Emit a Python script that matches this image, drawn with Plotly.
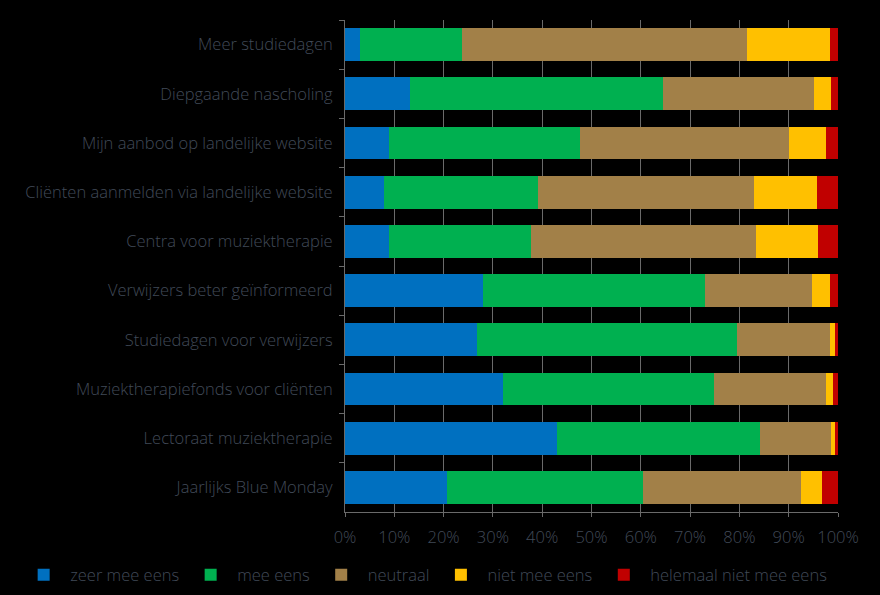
import plotly.graph_objects as go

categories = ['Meer studiedagen',
              'Diepgaande nascholing',
              'Mijn aanbod op landelijke website',
              'Cliënten aanmelden via landelijke website',
              'Centra voor muziektherapie',
              'Verwijzers beter geïnformeerd',
              'Studiedagen voor verwijzers',
              'Muziektherapiefonds voor cliënten',
              'Lectoraat muziektherapie',
              'Jaarlijks Blue Monday']

zeer_mee_eens = [3.0, 13.1, 8.9, 7.9, 8.9, 28.0, 26.7, 32.0, 43.0, 20.7]
mee_eens = [20.7, 51.4, 38.7, 31.2, 28.9, 45.0, 52.8, 42.9, 41.1, 39.8]
neutraal = [57.8, 30.6, 42.4, 43.8, 45.6, 21.7, 18.8, 22.7, 14.5, 31.9]
niet_mee_eens = [16.8, 3.4, 7.6, 12.8, 12.6, 3.6, 1.0, 1.4, 0.7, 4.3]
helemaal_niet = [1.7, 1.5, 2.4, 4.3, 4.0, 1.7, 0.7, 1.0, 0.7, 3.3]

series = [('zeer mee eens', zeer_mee_eens, '#0070C0'),
          ('mee eens', mee_eens, '#00B050'),
          ('neutraal', neutraal, '#A28048'),
          ('niet mee eens', niet_mee_eens, '#FFC000'),
          ('helemaal niet mee eens', helemaal_niet, '#C00000')]

text_color = '#404a58'
grid_color = '#6a6a6a'

fig = go.Figure()
for name, vals, color in series:
    fig.add_trace(go.Bar(y=categories, x=[v / 100 for v in vals], name=name,
                         orientation='h', marker=dict(color=color, line=dict(width=0))))

fig.update_layout(
    barmode='stack', bargap=0.33,
    width=880, height=595,
    paper_bgcolor='black', plot_bgcolor='black',
    font=dict(family='Open Sans', size=16.5, color=text_color, weight=300),
    margin=dict(l=345, r=42, t=20, b=83, autoexpand=False),
    legend=dict(orientation='h', x=-0.665, xanchor='left', y=-0.128, yanchor='middle',
                font=dict(size=16.5, color=text_color), traceorder='normal',
                itemwidth=43, itemclick=False),
    showlegend=True,
)

fig.update_xaxes(range=[0, 1], tickformat='.0%', dtick=0.1,
                 showgrid=True, gridcolor=grid_color, gridwidth=1,
                 showline=True, linecolor=grid_color, linewidth=1,
                 ticks='outside', ticklen=4, tickcolor=grid_color,
                 ticklabelstandoff=6, zeroline=False, fixedrange=True)
fig.update_yaxes(autorange='reversed', showgrid=False,
                 showline=True, linecolor=grid_color, linewidth=1,
                 ticks='outside', ticklen=5, tickcolor=grid_color,
                 tickson='boundaries', ticklabelstandoff=8, fixedrange=True)

# drop the default page margin so the chart sits flush in the window
fig.write_html('out.html', config={'displayModeBar': False},
               post_script="document.body.style.margin='0';document.body.style.background='black';")
